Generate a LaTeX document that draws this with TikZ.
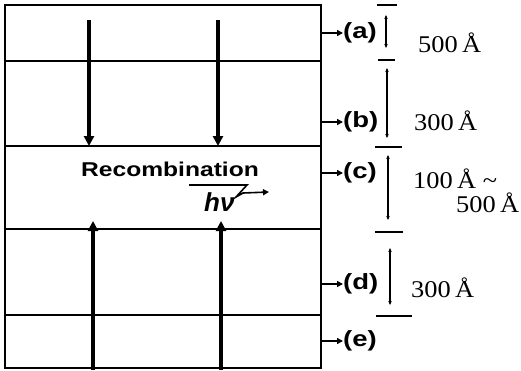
\documentclass[tikz,border=0pt]{standalone}
\usepackage{fontspec}
\usepackage{graphicx}
\setmainfont{Liberation Serif}
\setsansfont{Liberation Sans}
\usetikzlibrary{arrows.meta}
\begin{document}
\begin{tikzpicture}[x=1pt,y=-1pt,
  frame/.style={line width=2pt},
  beam/.style={line width=3.6pt,-{Triangle[length=10pt,width=10pt]}},
  ptr/.style={line width=1.8pt,-{Triangle[length=6pt,width=6pt]}},
  dimline/.style={line width=1.1pt,{Stealth[length=4pt,width=3.5pt]}-{Stealth[length=4pt,width=3.5pt]}},
  bar/.style={line width=1.3pt},
  lab/.style={font=\sffamily\bfseries\fontsize{22}{24}\selectfont,inner sep=0pt,anchor=west},
  val/.style={font=\fontsize{24}{26}\selectfont,inner sep=0pt,anchor=base west},
  photon/.style={line width=1.6pt}]
\useasboundingbox (0,0) rectangle (521,370);
% frame and layers
\coordinate (TL) at (5,5);
\coordinate (BR) at (321,368);
\draw[frame] (TL) rectangle (BR);
\foreach \n/\yy in {1/61,2/146,3/229,4/315}{
  \coordinate (L\n w) at (5,\yy);
  \coordinate (L\n e) at (321,\yy);
  \draw[frame] (L\n w) -- (L\n e);
}
% carrier arrows
\coordinate (d1s) at (89,20);  \coordinate (d1e) at (89,146);
\coordinate (d2s) at (218,20); \coordinate (d2e) at (218,146);
\coordinate (u1s) at (93,370); \coordinate (u1e) at (93,221);
\coordinate (u2s) at (221,370);\coordinate (u2e) at (221,221);
\draw[beam] (d1s) -- (d1e);
\draw[beam] (d2s) -- (d2e);
\draw[beam] (u1s) -- (u1e);
\draw[beam] (u2s) -- (u2e);
% recombination text
\node[font=\sffamily\bfseries\fontsize{20}{22}\selectfont,inner sep=0pt,anchor=base] (rec) at (170,176) {\scalebox{1.23}[1]{Recombination}};
\node[font=\sffamily\bfseries\itshape\fontsize{26}{28}\selectfont,inner sep=0pt,anchor=base west] (hv) at (204,211) {hν};
\coordinate (p1) at (189,185);
\coordinate (p2) at (247,185);
\coordinate (p3) at (236,197);
\coordinate (p4) at (243,193);
\coordinate (p5) at (269,192);
\draw[photon,-{Triangle[length=6pt,width=6pt]}] (p1) -- (p2) -- (p3) -- (p4) -- (p5);
% layer labels
\foreach \k/\yy in {a/33,b/122,c/173,d/284,e/341}{
  \coordinate (r\k) at (321,\yy);
  \node[lab] (l\k) at (343,\yy) {\scalebox{1.25}[1]{(\k)}};
  \draw[ptr] (r\k) -- (l\k.west);
}
% dimension bars
\coordinate (b1w) at (377,5);   \coordinate (b1e) at (397,5);
\coordinate (b2w) at (378,60);  \coordinate (b2e) at (395,60);
\coordinate (b3w) at (375,147); \coordinate (b3e) at (402,147);
\coordinate (b4w) at (375,232); \coordinate (b4e) at (403,232);
\coordinate (b5w) at (376,316); \coordinate (b5e) at (412,316);
\foreach \n in {1,...,5}{\draw[bar] (b\n w) -- (b\n e);}
% dimension arrows
\coordinate (da1) at (386,15);  \coordinate (da2) at (386,48);
\coordinate (db1) at (387,68);  \coordinate (db2) at (387,138);
\coordinate (dc1) at (388,155); \coordinate (dc2) at (388,220);
\coordinate (dd1) at (390,248); \coordinate (dd2) at (390,305);
\draw[dimline] (da1) -- (da2);
\draw[dimline] (db1) -- (db2);
\draw[dimline] (dc1) -- (dc2);
\draw[dimline] (dd1) -- (dd2);
% values
\node[val] (va) at (418,52) {\scalebox{1.1}[1]{500\,Å}};
\node[val] (vb) at (414,130) {\scalebox{1.1}[1]{300\,Å}};
\node[val] (vc) at (413,188) {\scalebox{1.1}[1]{100\,Å \textasciitilde}};
\node[val] (vc2) at (456,212) {\scalebox{1.1}[1]{500\,Å}};
\node[val] (vd) at (411,297) {\scalebox{1.1}[1]{300\,Å}};
\end{tikzpicture}
\end{document}
